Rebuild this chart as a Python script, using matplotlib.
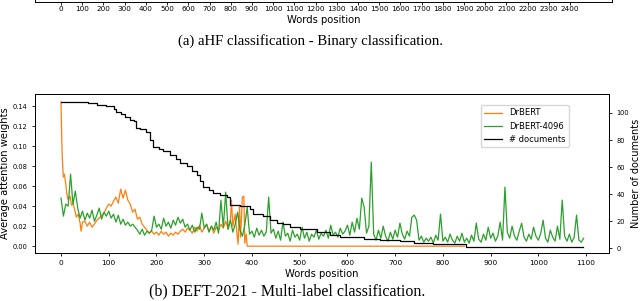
import numpy as np
import matplotlib
matplotlib.use("Agg")
import matplotlib.pyplot as plt

# ---- data ----
green_x = np.arange(0, 1100, 5)
green_y = [
    0.048, 0.030, 0.042, 0.040, 0.072, 0.042, 0.055, 0.038, 0.028, 0.035,
    0.026, 0.033, 0.028, 0.036, 0.025, 0.031, 0.038, 0.027, 0.034, 0.030,
    0.035, 0.028, 0.032, 0.024, 0.031, 0.022, 0.027, 0.021, 0.024, 0.020,
    0.022, 0.019, 0.016, 0.012, 0.017, 0.011, 0.015, 0.013, 0.016, 0.030,
    0.019, 0.022, 0.017, 0.028, 0.020, 0.024, 0.018, 0.026, 0.021, 0.029,
    0.023, 0.027, 0.019, 0.022, 0.016, 0.021, 0.014, 0.019, 0.017, 0.033,
    0.018, 0.022, 0.014, 0.020, 0.016, 0.024, 0.013, 0.046, 0.019, 0.054,
    0.017, 0.026, 0.014, 0.022, 0.034, 0.016, 0.010, 0.021, 0.039, 0.012,
    0.015, 0.009, 0.018, 0.011, 0.016, 0.010, 0.014, 0.049, 0.013, 0.017,
    0.008, 0.015, 0.006, 0.024, 0.010, 0.013, 0.005, 0.016, 0.009, 0.012,
    0.006, 0.019, 0.008, 0.014, 0.005, 0.012, 0.009, 0.016, 0.007, 0.013,
    0.010, 0.016, 0.008, 0.021, 0.011, 0.014, 0.009, 0.018, 0.012, 0.015,
    0.021, 0.011, 0.024, 0.014, 0.028, 0.017, 0.048, 0.039, 0.013, 0.020,
    0.084, 0.012, 0.006, 0.016, 0.008, 0.020, 0.010, 0.005, 0.014, 0.007,
    0.016, 0.009, 0.023, 0.012, 0.007, 0.015, 0.010, 0.029, 0.031, 0.026,
    0.006, 0.010, 0.004, 0.008, 0.005, 0.009, 0.003, 0.011, 0.006, 0.032,
    0.005, 0.009, 0.004, 0.012, 0.006, 0.003, 0.010, 0.005, 0.013, 0.004,
    0.008, 0.003, 0.011, 0.005, 0.023, 0.007, 0.004, 0.012, 0.006, 0.019,
    0.008, 0.013, 0.005, 0.010, 0.024, 0.006, 0.059, 0.014, 0.008, 0.020,
    0.010, 0.006, 0.015, 0.023, 0.009, 0.005, 0.012, 0.007, 0.019, 0.010,
    0.006, 0.013, 0.026, 0.008, 0.004, 0.016, 0.009, 0.005, 0.020, 0.007,
    0.046, 0.010, 0.005, 0.012, 0.004, 0.009, 0.031, 0.006, 0.004, 0.008,
]

orange_x = [0, 1, 2, 3, 5, 7, 10, 12, 15, 19, 22, 25, 29, 32, 36, 40, 42, 45,
            50, 55, 60, 65, 70, 75, 80, 85, 90, 95, 100, 105, 110, 115, 120,
            125, 130, 135, 140, 145, 150, 155, 160, 165, 170, 175, 180, 185,
            190, 195, 200, 205, 210, 215, 220, 225, 230, 235, 240, 245, 250,
            255, 260, 265, 270, 275, 280, 285, 290, 295, 300, 305, 310, 315,
            320, 325, 330, 335, 340, 345, 350, 355, 357, 360, 365, 368, 371,
            374, 376, 380, 383, 385, 388, 390, 845]
orange_y = [0.144, 0.120, 0.098, 0.085, 0.069, 0.072, 0.062, 0.053, 0.046,
            0.050, 0.041, 0.043, 0.036, 0.029, 0.032, 0.023, 0.015, 0.024,
            0.025, 0.020, 0.024, 0.019, 0.022, 0.026, 0.028, 0.031, 0.033,
            0.038, 0.042, 0.040, 0.045, 0.049, 0.043, 0.057, 0.048, 0.056,
            0.046, 0.042, 0.034, 0.037, 0.027, 0.029, 0.022, 0.019, 0.016,
            0.013, 0.015, 0.012, 0.014, 0.011, 0.015, 0.012, 0.014, 0.010,
            0.013, 0.011, 0.014, 0.012, 0.015, 0.017, 0.014, 0.018, 0.016,
            0.013, 0.019, 0.015, 0.021, 0.014, 0.018, 0.022, 0.015, 0.020,
            0.013, 0.019, 0.016, 0.022, 0.018, 0.025, 0.017, 0.027, 0.046,
            0.020, 0.032, 0.015, 0.002, 0.041, 0.009, 0.049, 0.050, 0.003,
            0.012, 0.0, 0.0]

docs_x = [0, 57, 75, 95, 110, 115, 125, 134, 145, 152, 158, 165, 179, 186,
          193, 205, 214, 228, 240, 249, 263, 275, 284, 292, 298, 310, 319,
          333, 347, 354, 375, 396, 403, 424, 438, 452, 466, 480, 501, 536,
          564, 585, 634, 669, 711, 740, 779, 849, 1094]
docs_n = [108, 107, 106, 105, 103, 101, 99, 97, 95, 94, 89, 88, 86, 80, 75,
          73, 72, 69, 66, 63, 61, 57, 54, 50, 45, 43, 41, 39, 38, 32, 31, 29,
          25, 24, 21, 19, 18, 16, 14, 12, 10, 8, 7, 6, 5, 4, 3, 1, 1]

top_ticks = list(range(0, 2500, 100))
bottom_ticks = list(range(0, 1200, 100))

W, H = 640, 301
fig = plt.figure(figsize=(W / 100, H / 100), dpi=100)

# ---- strip of the previous sub-figure (a) ----
axa = fig.add_axes([35 / W, 1 - 2 / H, (612 - 35) / W, 0.3])
axa.set_xlim(-123, 2598)
axa.set_xticks(top_ticks)
axa.set_yticks([])
axa.tick_params(axis="x", labelsize=5.2, length=2.0, width=0.6, pad=1.2)
for s in axa.spines.values():
    s.set_linewidth(0.7)
axa.set_xlabel("Words position", fontsize=7.2, labelpad=1.5)
fig.text(311 / W, 1 - 41 / H, "(a) aHF classification - Binary classification.",
         ha="center", va="center", family="Liberation Serif", fontsize=10.6)

# ---- main sub-figure (b) ----
ax = fig.add_axes([35 / W, 1 - 253 / H, (609 - 35) / W, (253 - 94) / H])
l1, = ax.plot(orange_x, orange_y, color="#ff7f0e", lw=0.9, label="DrBERT")
l2, = ax.plot(green_x, green_y, color="#2ca02c", lw=0.9, label="DrBERT-4096")
ax.set_xlim(-54.5, 1148)
ax.set_ylim(-0.0068, 0.152)
ax.set_xticks(bottom_ticks)
ax.set_yticks([0.00, 0.02, 0.04, 0.06, 0.08, 0.10, 0.12, 0.14])
ax.yaxis.set_major_formatter(matplotlib.ticker.FormatStrFormatter("%.2f"))
ax.tick_params(axis="x", labelsize=5.3, length=2.4, width=0.6, pad=2.5)
ax.tick_params(axis="y", labelsize=4.8, length=2.4, width=0.6, pad=3)
ax.set_xlabel("Words position", fontsize=7.2, labelpad=2)
ax.set_ylabel("Average attention weights", fontsize=7.2, labelpad=2)
for s in ax.spines.values():
    s.set_linewidth(0.7)

ax2 = ax.twinx()
l3, = ax2.plot(docs_x, docs_n, color="black", lw=0.9, drawstyle="steps-post",
               label="# documents")
ax2.set_ylim(-3.5, 114)
ax2.set_yticks([0, 20, 40, 60, 80, 100])
ax2.tick_params(axis="y", labelsize=4.8, length=2.4, width=0.6, pad=3)
ax2.set_ylabel("Number of documents", fontsize=7.0, labelpad=1)
for s in ax2.spines.values():
    s.set_linewidth(0.7)

ax2.legend([l1, l2, l3], ["DrBERT", "DrBERT-4096", "# documents"],
           loc="upper right", bbox_to_anchor=(0.93, 0.93), borderaxespad=0,
           fontsize=6, handlelength=2.2)

fig.text(287 / W, 1 - 291 / H, "(b) DEFT-2021 - Multi-label classification.",
         ha="center", va="center", family="Liberation Serif", fontsize=11.5)

fig.savefig("out.png", dpi=100)
